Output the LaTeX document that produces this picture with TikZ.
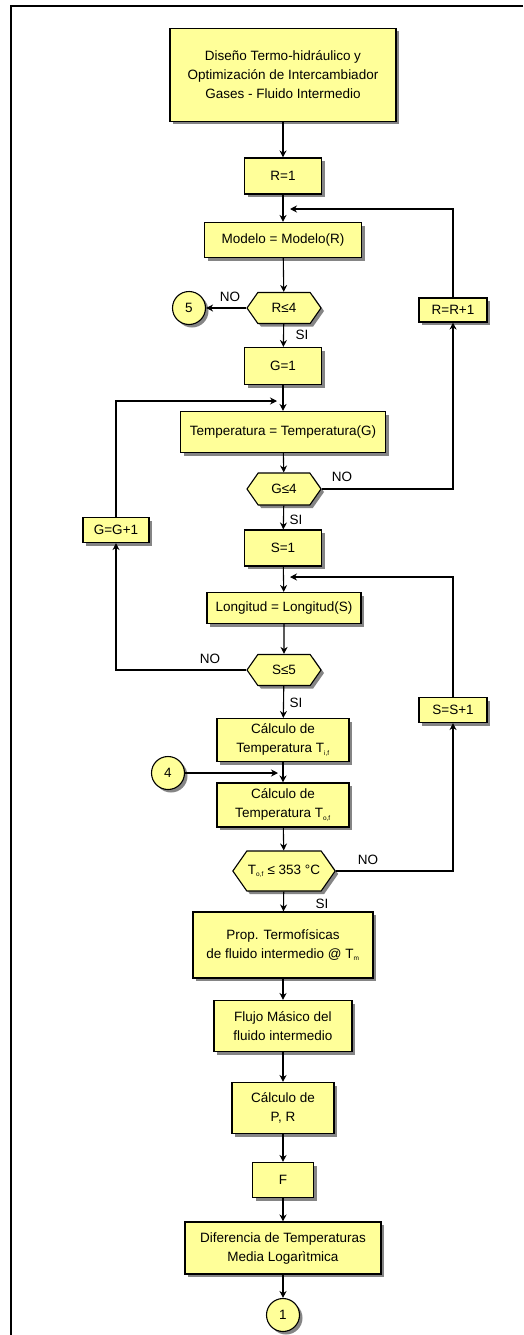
\documentclass[tikz,border=0pt]{standalone}
\usepackage{fontspec}
\setmainfont{Liberation Sans}
\usetikzlibrary{shapes.symbols,shadows,arrows.meta}
\definecolor{boxfill}{RGB}{255,255,153}
\newcommand\tsub[1]{\textsubscript{\fontsize{6.5}{6.5}\selectfont #1}}
\tikzset{
 proc/.style={draw,fill=boxfill,line width=1.1pt,inner sep=1pt,align=center,
  drop shadow={shadow xshift=3pt,shadow yshift=-3pt,fill=black!60,opacity=.8}},
 test/.style={proc,signal,signal to=east and west,signal pointer angle=110},
 conn/.style={proc,circle,minimum size=33pt},
 flow/.style={draw,line width=1.1pt,-{Stealth[length=7pt,width=7pt]}},
 lbl/.style={inner sep=0pt}
}
\begin{document}
\begin{tikzpicture}[x=1pt,y=-1pt,font=\fontsize{13.5}{19}\selectfont]
\useasboundingbox (0,0) rectangle (523,1335);
\draw[line width=1.6pt] (523,6) -- (11,6) -- (11,1335);

\node[proc,minimum width=226pt,minimum height=93pt] (title) at (283,75) {Diseño Termo-hidráulico y\\Optimización de Intercambiador\\Gases - Fluido Intermedio};
\node[proc,minimum width=77pt,minimum height=36pt] (rini) at (283,176) {R=1};
\node[proc,minimum width=157pt,minimum height=35pt] (modelo) at (283,240) {Modelo = Modelo(R)};
\node[test,minimum width=74pt,minimum height=31pt] (rcheck) at (284,308) {R≤4};
\node[conn] (c5) at (189,308) {5};
\node[proc,minimum width=68pt,minimum height=24pt] (rinc) at (453,310) {R=R+1};
\node[proc,minimum width=77pt,minimum height=37pt] (gini) at (283,366) {G=1};
\node[proc,minimum width=205pt,minimum height=41pt] (temp) at (283,432) {Temperatura = Temperatura(G)};
\node[test,minimum width=74pt,minimum height=32pt] (gcheck) at (284,489) {G≤4};
\node[proc,minimum width=66pt,minimum height=25pt] (ginc) at (116,530) {G=G+1};
\node[proc,minimum width=77pt,minimum height=36pt] (sini) at (283,548) {S=1};
\node[proc,minimum width=154pt,minimum height=31pt] (longitud) at (284,608) {Longitud = Longitud(S)};
\node[test,minimum width=74pt,minimum height=31pt] (scheck) at (284,670) {S≤5};
\node[proc,minimum width=68pt,minimum height=25pt] (sinc) at (453,710) {S=S+1};
\node[proc,minimum width=132pt,minimum height=43pt] (tif) at (283,740) {Cálculo de\\Temperatura T\tsub{i,f}};
\node[conn] (c4) at (168,773) {4};
\node[proc,minimum width=132pt,minimum height=44pt] (tof) at (283,805) {Cálculo de\\Temperatura T\tsub{o,f}};
\node[test,minimum width=97pt,minimum height=40pt] (tcheck) at (284,871) {T\tsub{o,f} ≤ 353 °C};
\node[proc,minimum width=180pt,minimum height=66pt] (prop) at (283,945) {Prop. Termofísicas\\de fluido intermedio @ T\tsub{m}};
\node[proc,minimum width=138pt,minimum height=51pt] (flujo) at (283,1026) {Flujo Másico del\\fluido intermedio};
\node[proc,minimum width=102pt,minimum height=51pt] (pr) at (283,1108) {Cálculo de\\P, R};
\node[proc,minimum width=61pt,minimum height=35pt] (fnode) at (283,1180) {F};
\node[proc,minimum width=196pt,minimum height=52pt] (dtml) at (283,1248) {Diferencia de Temperaturas\\Media Logarìtmica};
\node[conn] (c1) at (283,1315) {1};

\coordinate (rjoin) at (290,209);
\coordinate (gjoin) at (277,401);
\coordinate (sjoin) at (290,577);
\coordinate (tjoin) at (278,773);

\draw[flow] (title) -- (rini);
\draw[flow] (rini) -- (modelo);
\draw[flow] (modelo) -- (rcheck);
\draw[flow] (rcheck.west) -- (c5.east);
\draw[flow] (rcheck) -- (gini);
\draw[flow] (gini) -- (temp);
\draw[flow] (temp) -- (gcheck);
\draw[flow] (gcheck.east) -| (rinc.south);
\draw[flow] (rinc.north) |- (rjoin);
\draw[flow] (gcheck) -- (sini);
\draw[flow] (sini) -- (longitud);
\draw[flow] (longitud) -- (scheck);
\draw[flow] (scheck.west) -| (ginc.south);
\draw[flow] (ginc.north) |- (gjoin);
\draw[flow] (scheck) -- (tif);
\draw[flow] (tif) -- (tof);
\draw[flow] (c4.east) -- (tjoin);
\draw[flow] (tof) -- (tcheck);
\draw[flow] (tcheck.east) -| (sinc.south);
\draw[flow] (sinc.north) |- (sjoin);
\draw[flow] (tcheck) -- (prop);
\draw[flow] (prop) -- (flujo);
\draw[flow] (flujo) -- (pr);
\draw[flow] (pr) -- (fnode);
\draw[flow] (fnode) -- (dtml);
\draw[flow] (dtml) -- (c1);

\node[lbl] (no1) at (230,297) {NO};
\node[lbl] (si1) at (302,335) {SI};
\node[lbl] (no2) at (342,477) {NO};
\node[lbl] (si2) at (296,520) {SI};
\node[lbl] (no3) at (210,659) {NO};
\node[lbl] (si3) at (296,703) {SI};
\node[lbl] (no4) at (368,860) {NO};
\node[lbl] (si4) at (322,904) {SI};
\end{tikzpicture}
\end{document}
